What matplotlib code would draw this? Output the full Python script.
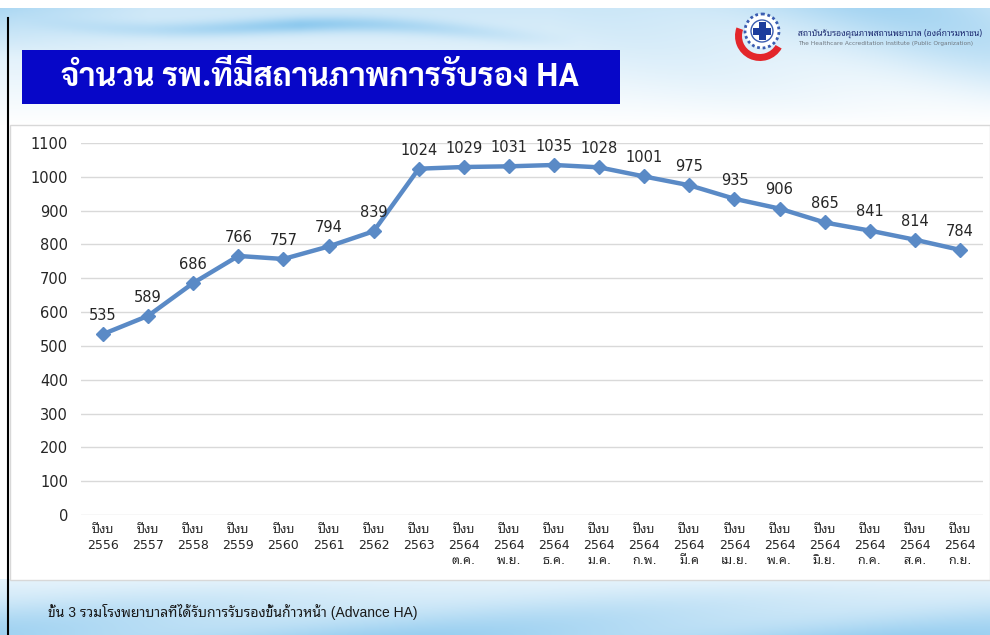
import numpy as np
import matplotlib.pyplot as plt
import matplotlib.font_manager as fm
from matplotlib.patches import Rectangle, Circle, Wedge

###############################################################################
# Data
###############################################################################
years = ['2556', '2557', '2558', '2559', '2560', '2561', '2562', '2563'] + ['2564'] * 12
months = [''] * 8 + ['ต.ค.', 'พ.ย.', 'ธ.ค.', 'ม.ค.', 'ก.พ.', 'มี.ค', 'เม.ย.',
                     'พ.ค.', 'มิ.ย.', 'ก.ค.', 'ส.ค.', 'ก.ย.']
counts = [535, 589, 686, 766, 757, 794, 839, 1024, 1029, 1031, 1035, 1028,
          1001, 975, 935, 906, 865, 841, 814, 784]
yticks = list(range(0, 1101, 100))
TITLE = 'จำนวน รพ.ที่มีสถานภาพการรับรอง HA'
NOTE = 'ขั้น 3 รวมโรงพยาบาลที่ได้รับการรับรองขั้นก้าวหน้า (Advance HA)'
ORG_TH = 'สถาบันรับรองคุณภาพสถานพยาบาล (องค์การมหาชน)'
ORG_EN = 'The Healthcare Accreditation Institute (Public Organization)'

###############################################################################
# Fonts
###############################################################################
names = {f.name for f in fm.fontManager.ttflist}


def pick(*cands):
    return next((c for c in cands if c in names), 'DejaVu Sans')


THAI = pick('Noto Sans Thai Looped', 'Noto Sans Thai', 'Sarabun')
THAI_T = pick('Sarabun', 'Noto Sans Thai', 'Noto Sans Thai Looped')
LBL = ['DejaVu Sans', THAI]
NOTEF = ['Liberation Sans', THAI]
LC = '#5A8AC6'

###############################################################################
# Figure + background
###############################################################################
(W, H) = (990, 635)
fig = plt.figure(figsize=(W / 100, H / 100), dpi=100)
bg = fig.add_axes([0, 0, 1, 1], zorder=-5)
bg.set_xlim(0, W)
bg.set_ylim(H, 0)
bg.axis('off')

yy, xx = np.mgrid[0:H, 0:W].astype(float)
s = np.zeros((H, W))
inTop = (yy < 125) & (yy > 7)
top = np.clip(1 - (yy - 7) / 118, 0, 1)
w1 = np.exp(-((yy - 22 - 0.03 * (xx - 100) - 6 * np.sin(xx / 80)) / 8) ** 2) \
    * np.clip(1 - np.abs(xx - 300) / 280, 0, 1)
w2 = np.clip((xx - 550) / 440, 0, 1) * (0.5 + 0.5 * np.sin(xx / 60 - yy / 25))
s += inTop * top * (0.35 + 0.4 * w2) + 0.5 * w1 * inTop
s += inTop * 0.25 * np.clip(1 - xx / 150, 0, 1) * np.clip(1 - (yy - 7) / 50, 0, 1)
bot = np.clip((yy - 578) / 57, 0, 1) * (yy > 578)
w3 = 0.5 + 0.5 * np.sin(xx / 80 + yy / 12)
s += (yy > 578) * (0.18 + 0.35 * bot + 0.2 * w3 * bot)
s = np.clip(s, 0, 0.85)
blue = np.array([0.45, 0.74, 0.92])
img = np.ones((H, W, 3)) * (1 - s[..., None]) + blue * s[..., None]
bg.imshow(img, extent=[0, W, H, 0], aspect='auto', interpolation='bilinear')

# chart panel
bg.add_patch(Rectangle((10, 125), W - 10, 455, fc='white', ec='#d8d8d8', lw=1))
bg.plot([8, 8], [18, H], color='black', lw=1.5)

# title box
bg.add_patch(Rectangle((22, 50), 598, 54, fc='#0707C8', ec='none'))
bg.text(61, 77, TITLE, color='white', fontsize=23.2, fontweight='bold',
        family=[THAI_T], va='center', ha='left')

# logo
bg.add_patch(Wedge((760, 36), 25, 30, 200, width=7, fc='#E3262B', ec='none'))
bg.add_patch(Circle((762, 31), 17, fc='white', ec='#3A5CB0', lw=2, ls=(0, (1, 1))))
bg.add_patch(Circle((762, 31), 11, fc='white', ec='#3A5CB0', lw=1))
bg.add_patch(Rectangle((758.5, 22), 7, 18, fc='#1C3C9C', ec='none'))
bg.add_patch(Rectangle((753, 27.5), 18, 7, fc='#1C3C9C', ec='none'))
bg.text(798, 33, ORG_TH, fontsize=6.2, family=[THAI], color='#1C2A70',
        va='center', fontweight='bold')
bg.text(798, 44, ORG_EN, fontsize=4.2, family=['DejaVu Sans'], color='#707880',
        va='center')

# footnote
bg.text(48, 612, NOTE, fontsize=10, family=NOTEF, color='#1a1a1a', va='center')

###############################################################################
# Chart
###############################################################################
ax = fig.add_axes([80.5 / W, 1 - 515 / H, 902 / W, 372 / H])
ax.set_facecolor('none')
x = np.arange(len(counts))
ax.plot(x, counts, color=LC, lw=3.2, marker='D', ms=7, mfc=LC, mec=LC,
        zorder=3, solid_joinstyle='round')
for (xi, v) in zip(x, counts):
    ax.annotate(str(v), (xi, v), xytext=(0, 8), textcoords='offset points',
                ha='center', va='bottom', fontsize=10.5, color='#262626',
                family=LBL)
ax.set_xlim(-0.5, len(counts) - 0.5)
ax.set_ylim(0, 1100)
ax.set_yticks(yticks)
ax.set_yticklabels([str(t) for t in yticks], family=LBL, fontsize=10.5,
                   color='#262626')
ax.set_xticks(x)
ax.set_xticklabels(['ปีงบ\n{}\n{}'.format(yv, mv) for (yv, mv) in zip(years, months)],
                   family=LBL, fontsize=9, color='#262626', linespacing=1.25,
                   va='top')
ax.tick_params(axis='both', length=0)
ax.tick_params(axis='y', pad=9)
ax.tick_params(axis='x', pad=6)
ax.grid(axis='y', color='#d9d9d9', lw=1)
ax.set_axisbelow(True)
for sp in ax.spines.values():
    sp.set_visible(False)

fig.savefig('out.png', dpi=100)
